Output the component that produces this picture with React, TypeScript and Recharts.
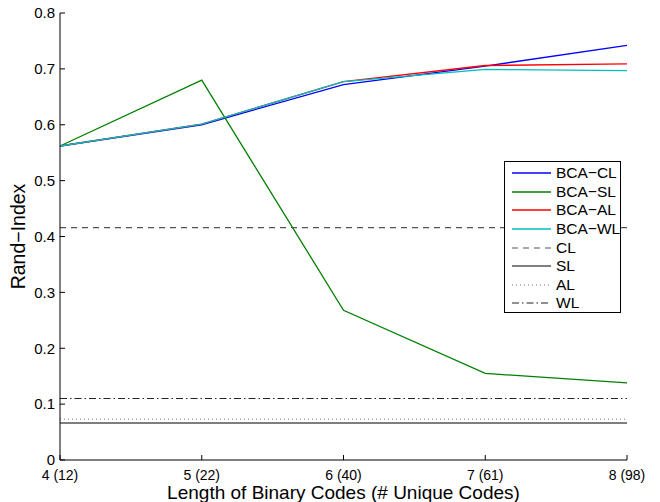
import React from 'react';
import { LineChart, Line, XAxis, YAxis, Legend } from 'recharts';

// Categories (x axis)
const codeLengths = [4, 5, 6, 7, 8];
const uniqueCodes = [12, 22, 40, 61, 98];

// Series values
const bcaCL = [0.562, 0.6, 0.672, 0.705, 0.742];
const bcaSL = [0.562, 0.68, 0.268, 0.155, 0.138];
const bcaAL = [0.562, 0.601, 0.677, 0.706, 0.709];
const bcaWL = [0.562, 0.601, 0.677, 0.699, 0.697];

// Baselines (constant reference methods)
const baseCL = 0.416;
const baseSL = 0.066;
const baseAL = 0.073;
const baseWL = 0.11;

// Y ticks
const yTicks = [0, 0.1, 0.2, 0.3, 0.4, 0.5, 0.6, 0.7, 0.8];
const yTickLabels = ['0', '0.1', '0.2', '0.3', '0.4', '0.5', '0.6', '0.7', '0.8'];

const FONT = '"Liberation Sans", Arial, Helvetica, sans-serif';

const data = codeLengths.map((x, i) => ({
  x,
  bcaCL: bcaCL[i],
  bcaSL: bcaSL[i],
  bcaAL: bcaAL[i],
  bcaWL: bcaWL[i],
  cl: baseCL,
  sl: baseSL,
  al: baseAL,
  wl: baseWL,
}));

type S = { key: string; name: string; color: string; width: number; dash?: string };

const series: S[] = [
  { key: 'bcaCL', name: 'BCA\u2212CL', color: '#0000ff', width: 1.3 },
  { key: 'bcaSL', name: 'BCA\u2212SL', color: '#008000', width: 1.3 },
  { key: 'bcaAL', name: 'BCA\u2212AL', color: '#ff0000', width: 1.3 },
  { key: 'bcaWL', name: 'BCA\u2212WL', color: '#00bfbf', width: 1.3 },
  { key: 'cl', name: 'CL', color: '#555555', width: 1.2, dash: '6 5' },
  { key: 'sl', name: 'SL', color: '#555555', width: 1.5 },
  { key: 'al', name: 'AL', color: '#777777', width: 1, dash: '1 3' },
  { key: 'wl', name: 'WL', color: '#222222', width: 1.1, dash: '7 3 1.5 3' },
];

const xLabel = (v: number) => {
  const i = codeLengths.indexOf(v);
  return `${v} (${uniqueCodes[i]})`;
};
const yLabel = (v: number) => {
  const i = yTicks.findIndex((t) => Math.abs(t - v) < 1e-9);
  return i >= 0 ? yTickLabels[i] : String(v);
};

const LegendBox = () => (
  <div
    style={{
      boxSizing: 'border-box',
      width: 117,
      height: 152,
      border: '1.5px solid #000',
      background: '#fff',
      padding: '2px 0 0 0',
      fontFamily: FONT,
      fontSize: 15.5,
      color: '#000',
    }}
  >
    {series.map((s) => (
      <div key={s.key} style={{ display: 'flex', alignItems: 'center', height: 18.6 }}>
        <svg width={48} height={10} style={{ flex: 'none' }}>
          <line
            x1={7}
            x2={46}
            y1={5}
            y2={5}
            stroke={s.color}
            strokeWidth={s.width}
            strokeDasharray={s.dash}
          />
        </svg>
        <span style={{ marginLeft: 3, lineHeight: '18px' }}>{s.name}</span>
      </div>
    ))}
  </div>
);

export default function App() {
  const yTickStyle = { fill: '#000', fontSize: 15, fontFamily: FONT };
  const xTickStyle = { fill: '#000', fontSize: 14, fontFamily: FONT };
  return (
    <div style={{ position: 'absolute', left: 0, top: 0, background: '#fff' }}>
      <LineChart
        width={660}
        height={502}
        data={data}
        margin={{ top: 13, right: 33, bottom: 0, left: 0 }}
      >
        <XAxis
          dataKey="x"
          type="number"
          domain={[4, 8]}
          ticks={codeLengths}
          interval={0}
          tickFormatter={xLabel}
          height={42}
          tickSize={-5}
          tickMargin={15}
          stroke="#000"
          tick={xTickStyle}
          label={{
            value: 'Length of Binary Codes (# Unique Codes)',
            position: 'insideBottom',
            offset: 3,
            style: { fill: '#000', fontSize: 19, fontFamily: FONT },
          }}
        />
        <XAxis
          xAxisId="top"
          orientation="top"
          type="number"
          domain={[4, 8]}
          ticks={codeLengths}
          interval={0}
          tickFormatter={() => ''}
          height={0}
          tickSize={-5}
          stroke="#000"
        />
        <YAxis
          type="number"
          domain={[0, 0.8]}
          ticks={yTicks}
          interval={0}
          tickFormatter={yLabel}
          width={60}
          tickSize={-5}
          tickMargin={10}
          stroke="#000"
          tick={yTickStyle}
          label={{
            value: 'Rand\u2212Index',
            angle: -90,
            position: 'insideLeft',
            offset: 18,
            style: { fill: '#000', fontSize: 19.5, fontFamily: FONT, textAnchor: 'middle' },
          }}
        />
        <YAxis
          yAxisId="right"
          orientation="right"
          type="number"
          domain={[0, 0.8]}
          ticks={yTicks}
          interval={0}
          tickFormatter={() => ''}
          width={0}
          tickSize={-5}
          stroke="#000"
        />
        {series.map((s) => (
          <Line
            key={s.key}
            dataKey={s.key}
            name={s.name}
            type="linear"
            stroke={s.color}
            strokeWidth={s.width}
            strokeDasharray={s.dash}
            dot={false}
            activeDot={false}
            isAnimationActive={false}
          />
        ))}
        <Legend
          layout="horizontal"
          align="center"
          verticalAlign="middle"
          wrapperStyle={{ left: 504, top: 161, width: 117, height: 152 }}
          content={() => <LegendBox />}
        />
      </LineChart>
    </div>
  );
}
